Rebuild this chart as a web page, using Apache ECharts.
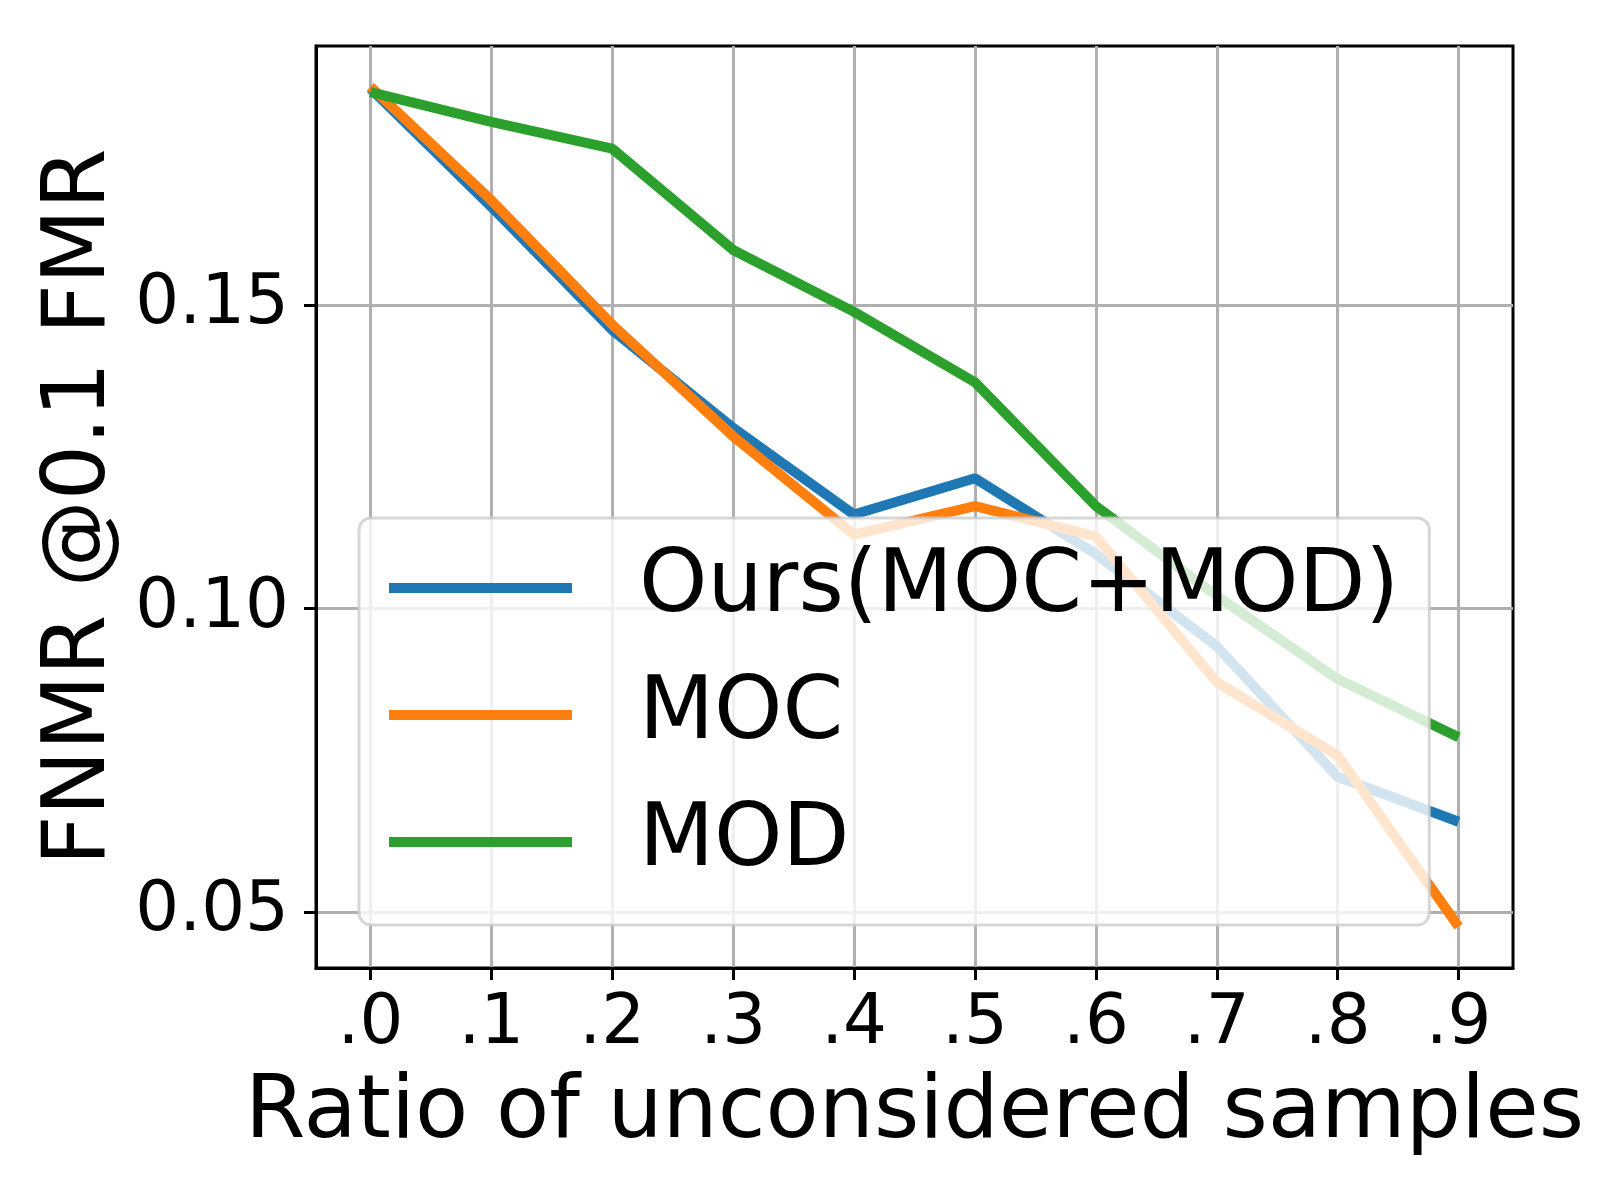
<!DOCTYPE html>
<html>
<head>
<meta charset="utf-8">
<script src="https://cdn.jsdelivr.net/npm/echarts@6/dist/echarts.min.js"></script>
<style>
  html, body { margin: 0; padding: 0; background: #fff; }
  #chart { width: 1600px; height: 1200px; }
</style>
</head>
<body>
<div id="chart"></div>
<script>
// values
const ratios = [0, 0.1, 0.2, 0.3, 0.4, 0.5, 0.6, 0.7, 0.8, 0.9];
const ours = [0.1857, 0.1662, 0.1459, 0.1298, 0.1155, 0.1215, 0.1090, 0.0938, 0.0723, 0.0649];
const moc  = [0.1860, 0.1673, 0.1468, 0.1284, 0.1122, 0.1169, 0.1119, 0.0879, 0.0758, 0.0476];
const mod  = [0.1851, 0.1802, 0.1758, 0.1591, 0.1489, 0.1373, 0.1169, 0.1021, 0.0884, 0.0788];
const seriesNames = ['Ours(MOC+MOD)', 'MOC', 'MOD'];
const xTicks = [0, 0.1, 0.2, 0.3, 0.4, 0.5, 0.6, 0.7, 0.8, 0.9];
const yTicks = [0.05, 0.10, 0.15];

const FONT = 'DejaVu Sans';
const colors = ['#1f77b4', '#ff7f0e', '#2ca02c'];

const pairs = (ys) => ratios.map((x, i) => [x, ys[i]]);

const chart = echarts.init(document.getElementById('chart'), null, { renderer: 'canvas' });

const tickStyle = { show: true, inside: false, length: 12, lineStyle: { color: '#000', width: 3 } };
const gridLine = { show: true, lineStyle: { color: '#b0b0b0', width: 3 } };
const spine = { show: true, onZero: false, lineStyle: { color: '#000', width: 3 } };

chart.setOption({
  animation: false,
  color: colors,
  grid: {
    left: 316, right: 87, top: 46, bottom: 232,
    show: true, borderColor: '#000', borderWidth: 3, backgroundColor: 'transparent'
  },
  xAxis: {
    type: 'value',
    min: -0.045, max: 0.945,
    name: 'Ratio of unconsidered samples',
    nameLocation: 'middle',
    nameGap: 103,
    nameTextStyle: { fontFamily: FONT, fontSize: 87, color: '#000' },
    axisLine: spine,
    axisTick: Object.assign({ customValues: xTicks }, tickStyle),
    axisLabel: {
      customValues: xTicks,
      margin: 23,
      fontFamily: FONT, fontSize: 69, color: '#000',
      formatter: v => '.' + Math.round(v * 10)
    },
    splitLine: gridLine
  },
  yAxis: {
    type: 'value',
    min: 0.0408, max: 0.1927,
    name: 'FNMR @0.1 FMR',
    nameLocation: 'middle',
    nameGap: 190,
    nameTextStyle: { fontFamily: FONT, fontSize: 87, color: '#000' },
    axisLine: spine,
    axisTick: Object.assign({ customValues: yTicks }, tickStyle),
    axisLabel: {
      customValues: yTicks,
      margin: 27,
      fontFamily: FONT, fontSize: 69, color: '#000',
      formatter: v => v.toFixed(2)
    },
    splitLine: gridLine
  },
  legend: {
    orient: 'vertical',
    left: 359, top: 518,
    data: seriesNames,
    icon: 'rect',
    itemWidth: 183, itemHeight: 10,
    itemGap: 27,
    padding: [20, 30, 33, 30],
    backgroundColor: 'rgba(255,255,255,0.8)',
    borderColor: 'rgba(204,204,204,0.8)',
    borderWidth: 3,
    borderRadius: 12,
    textStyle: {
      fontFamily: FONT, fontSize: 87, color: '#000',
      lineHeight: 100,
      padding: [0, 0, 0, 62]
    }
  },
  series: [
    { name: seriesNames[0], type: 'line', data: pairs(ours) },
    { name: seriesNames[1], type: 'line', data: pairs(moc) },
    { name: seriesNames[2], type: 'line', data: pairs(mod) }
  ].map(s => Object.assign(s, {
    showSymbol: false,
    symbol: 'none',
    lineStyle: { width: 10 },
    emphasis: { disabled: true }
  }))
});
</script>
</body>
</html>
